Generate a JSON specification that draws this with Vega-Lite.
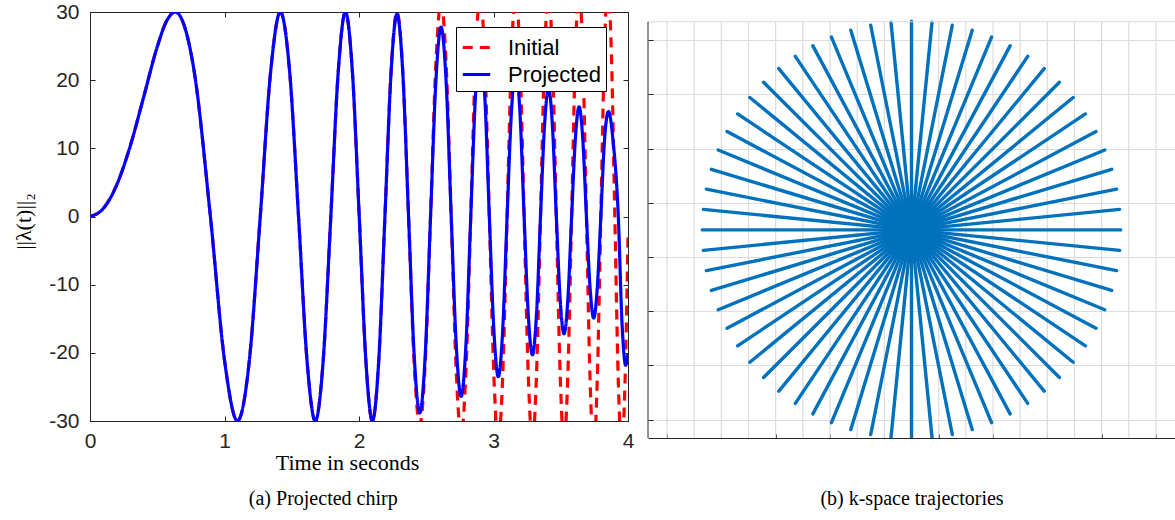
{
  "$schema": "https://vega.github.io/schema/vega-lite/v6.json",
  "background": "white",
  "padding": {"left": 12, "top": -16, "right": 0, "bottom": 0},
  "config": {
    "view": {"stroke": null},
    "font": "Liberation Sans",
    "axis": {"labelFont": "Liberation Sans", "domainColor": "#262626", "tickColor": "#262626", "labelColor": "#262626", "grid": false}
  },
  "spacing": 12,
  "datasets": {
    "chirp": [
      {"series":"Initial","t":0,"y":0},{"series":"Initial","t":0.1,"y":1.2},{"series":"Initial","t":0.2,"y":4.7},{"series":"Initial","t":0.3,"y":10.4},{"series":"Initial","t":0.4,"y":17.6},{"series":"Initial","t":0.5,"y":24.9},{"series":"Initial","t":0.57,"y":28.7},
      {"series":"Initial","t":0.633,"y":30},{"series":"Initial","t":0.7753,"y":21.2},{"series":"Initial","t":0.8952,"y":0},{"series":"Initial","t":1.0009,"y":-21.2},{"series":"Initial","t":1.0964,"y":-30},{"series":"Initial","t":1.1842,"y":-21.2},{"series":"Initial","t":1.266,"y":0},{"series":"Initial","t":1.3428,"y":21.2},{"series":"Initial","t":1.4154,"y":30},{"series":"Initial","t":1.4845,"y":21.2},{"series":"Initial","t":1.5505,"y":0},{"series":"Initial","t":1.6138,"y":-21.2},{"series":"Initial","t":1.6748,"y":-30},{"series":"Initial","t":1.7335,"y":-21.2},{"series":"Initial","t":1.7904,"y":0},{"series":"Initial","t":1.8455,"y":21.2},{"series":"Initial","t":1.899,"y":30},{"series":"Initial","t":1.951,"y":21.2},{"series":"Initial","t":2.0017,"y":0},{"series":"Initial","t":2.0512,"y":-21.2},{"series":"Initial","t":2.0994,"y":-30},{"series":"Initial","t":2.1466,"y":-21.2},{"series":"Initial","t":2.1928,"y":0},
      {"series":"Initial","t":2.238,"y":21.2},{"series":"Initial","t":2.2823,"y":30},{"series":"Initial","t":2.3258,"y":21.2},{"series":"Initial","t":2.3685,"y":0},{"series":"Initial","t":2.4104,"y":-21.6},{"series":"Initial","t":2.4516,"y":-30.5},{"series":"Initial","t":2.4921,"y":-21.6},{"series":"Initial","t":2.532,"y":0},{"series":"Initial","t":2.5713,"y":22.3},{"series":"Initial","t":2.6099,"y":31.5},{"series":"Initial","t":2.648,"y":22.3},{"series":"Initial","t":2.6856,"y":0},{"series":"Initial","t":2.7227,"y":-22.6},{"series":"Initial","t":2.7592,"y":-32},{"series":"Initial","t":2.7953,"y":-22.6},{"series":"Initial","t":2.8308,"y":0},{"series":"Initial","t":2.866,"y":23},{"series":"Initial","t":2.9008,"y":32.5},{"series":"Initial","t":2.9351,"y":23},{"series":"Initial","t":2.969,"y":0},{"series":"Initial","t":3.0026,"y":-23.3},{"series":"Initial","t":3.0357,"y":-33},{"series":"Initial","t":3.0686,"y":-23.3},{"series":"Initial","t":3.1011,"y":0},{"series":"Initial","t":3.1332,"y":23.3},{"series":"Initial","t":3.165,"y":33},{"series":"Initial","t":3.1965,"y":23.3},{"series":"Initial","t":3.2277,"y":0},{"series":"Initial","t":3.2586,"y":-23.3},{"series":"Initial","t":3.2892,"y":-33},{"series":"Initial","t":3.3195,"y":-23.3},{"series":"Initial","t":3.3495,"y":0},{"series":"Initial","t":3.3793,"y":23.3},{"series":"Initial","t":3.4088,"y":33},{"series":"Initial","t":3.4381,"y":23.3},{"series":"Initial","t":3.4671,"y":0},{"series":"Initial","t":3.4959,"y":-23.3},{"series":"Initial","t":3.5244,"y":-33},{"series":"Initial","t":3.5527,"y":-23.3},{"series":"Initial","t":3.5808,"y":0},{"series":"Initial","t":3.6087,"y":23.7},{"series":"Initial","t":3.6363,"y":33.5},{"series":"Initial","t":3.6637,"y":23.7},{"series":"Initial","t":3.691,"y":0},{"series":"Initial","t":3.7181,"y":-24},{"series":"Initial","t":3.7449,"y":-34},{"series":"Initial","t":3.7715,"y":-24},{"series":"Initial","t":3.798,"y":0},{"series":"Initial","t":3.8243,"y":24},{"series":"Initial","t":3.8504,"y":34},{"series":"Initial","t":3.8763,"y":24},{"series":"Initial","t":3.9021,"y":0},{"series":"Initial","t":3.9276,"y":-24},{"series":"Initial","t":3.9531,"y":-34},{"series":"Initial","t":3.9783,"y":-24},{"series":"Initial","t":4.0,"y":-3},
      {"series":"Projected","t":0,"y":0},{"series":"Projected","t":0.1,"y":1.2},{"series":"Projected","t":0.2,"y":4.7},{"series":"Projected","t":0.3,"y":10.4},{"series":"Projected","t":0.4,"y":17.6},{"series":"Projected","t":0.5,"y":24.9},{"series":"Projected","t":0.57,"y":28.7},
      {"series":"Projected","t":0.633,"y":30},{"series":"Projected","t":0.7753,"y":21.2},{"series":"Projected","t":0.8952,"y":0},{"series":"Projected","t":1.0009,"y":-21.2},{"series":"Projected","t":1.0964,"y":-30},{"series":"Projected","t":1.1842,"y":-21.2},{"series":"Projected","t":1.266,"y":0},{"series":"Projected","t":1.3428,"y":21.2},{"series":"Projected","t":1.4154,"y":30},{"series":"Projected","t":1.4845,"y":21.2},{"series":"Projected","t":1.5505,"y":0},{"series":"Projected","t":1.6138,"y":-21.2},{"series":"Projected","t":1.6748,"y":-30},{"series":"Projected","t":1.7335,"y":-21.2},{"series":"Projected","t":1.7904,"y":0},{"series":"Projected","t":1.8455,"y":21.2},{"series":"Projected","t":1.899,"y":30},{"series":"Projected","t":1.951,"y":21.2},{"series":"Projected","t":2.0017,"y":0},{"series":"Projected","t":2.0512,"y":-21.2},{"series":"Projected","t":2.0994,"y":-30},{"series":"Projected","t":2.1466,"y":-21.2},{"series":"Projected","t":2.1928,"y":0},
      {"series":"Projected","t":2.238,"y":21},{"series":"Projected","t":2.2823,"y":29.7},{"series":"Projected","t":2.3258,"y":21},{"series":"Projected","t":2.3685,"y":0},{"series":"Projected","t":2.4104,"y":-20.4},{"series":"Projected","t":2.4516,"y":-28.8},{"series":"Projected","t":2.4921,"y":-20.4},{"series":"Projected","t":2.532,"y":0},{"series":"Projected","t":2.5713,"y":19.7},{"series":"Projected","t":2.6099,"y":27.8},{"series":"Projected","t":2.648,"y":19.7},{"series":"Projected","t":2.6856,"y":0},{"series":"Projected","t":2.7227,"y":-18.7},{"series":"Projected","t":2.7592,"y":-26.4},{"series":"Projected","t":2.7953,"y":-18.7},{"series":"Projected","t":2.8308,"y":0},{"series":"Projected","t":2.866,"y":17.7},{"series":"Projected","t":2.9008,"y":25},{"series":"Projected","t":2.9351,"y":17.7},{"series":"Projected","t":2.969,"y":0},{"series":"Projected","t":3.0026,"y":-16.6},{"series":"Projected","t":3.0357,"y":-23.5},{"series":"Projected","t":3.0686,"y":-16.6},{"series":"Projected","t":3.1011,"y":0},{"series":"Projected","t":3.1332,"y":15.3},{"series":"Projected","t":3.165,"y":21.7},{"series":"Projected","t":3.1965,"y":15.3},{"series":"Projected","t":3.2277,"y":0},{"series":"Projected","t":3.2586,"y":-14.4},{"series":"Projected","t":3.2892,"y":-20.3},{"series":"Projected","t":3.3195,"y":-14.4},{"series":"Projected","t":3.3495,"y":0},{"series":"Projected","t":3.3793,"y":13.3},{"series":"Projected","t":3.4088,"y":18.8},{"series":"Projected","t":3.4381,"y":13.3},{"series":"Projected","t":3.4671,"y":0},{"series":"Projected","t":3.4959,"y":-12.2},{"series":"Projected","t":3.5244,"y":-17.2},{"series":"Projected","t":3.5527,"y":-12.2},{"series":"Projected","t":3.5808,"y":0},{"series":"Projected","t":3.6087,"y":11.4},{"series":"Projected","t":3.6363,"y":16.1},{"series":"Projected","t":3.6637,"y":11.4},{"series":"Projected","t":3.691,"y":0},{"series":"Projected","t":3.7181,"y":-10.5},{"series":"Projected","t":3.7449,"y":-14.9},{"series":"Projected","t":3.7715,"y":-10.5},{"series":"Projected","t":3.798,"y":0},{"series":"Projected","t":3.8243,"y":10.9},{"series":"Projected","t":3.855,"y":15.4},{"series":"Projected","t":3.89,"y":10.9},{"series":"Projected","t":3.928,"y":0},{"series":"Projected","t":3.955,"y":-15.4},{"series":"Projected","t":3.983,"y":-21.8},{"series":"Projected","t":4.0,"y":-20.1}
    ],
    "spokes": [
      {"x":7.7,"y":0,"x2":-7.7,"y2":0},
      {"x":7.663,"y":0.755,"x2":-7.663,"y2":-0.755},
      {"x":7.552,"y":1.502,"x2":-7.552,"y2":-1.502},
      {"x":7.368,"y":2.235,"x2":-7.368,"y2":-2.235},
      {"x":7.114,"y":2.947,"x2":-7.114,"y2":-2.947},
      {"x":6.791,"y":3.63,"x2":-6.791,"y2":-3.63},
      {"x":6.402,"y":4.278,"x2":-6.402,"y2":-4.278},
      {"x":5.952,"y":4.885,"x2":-5.952,"y2":-4.885},
      {"x":5.445,"y":5.445,"x2":-5.445,"y2":-5.445},
      {"x":4.885,"y":5.952,"x2":-4.885,"y2":-5.952},
      {"x":4.278,"y":6.402,"x2":-4.278,"y2":-6.402},
      {"x":3.63,"y":6.791,"x2":-3.63,"y2":-6.791},
      {"x":2.947,"y":7.114,"x2":-2.947,"y2":-7.114},
      {"x":2.235,"y":7.368,"x2":-2.235,"y2":-7.368},
      {"x":1.502,"y":7.552,"x2":-1.502,"y2":-7.552},
      {"x":0.755,"y":7.663,"x2":-0.755,"y2":-7.663},
      {"x":0,"y":7.7,"x2":0,"y2":-7.7},
      {"x":-0.755,"y":7.663,"x2":0.755,"y2":-7.663},
      {"x":-1.502,"y":7.552,"x2":1.502,"y2":-7.552},
      {"x":-2.235,"y":7.368,"x2":2.235,"y2":-7.368},
      {"x":-2.947,"y":7.114,"x2":2.947,"y2":-7.114},
      {"x":-3.63,"y":6.791,"x2":3.63,"y2":-6.791},
      {"x":-4.278,"y":6.402,"x2":4.278,"y2":-6.402},
      {"x":-4.885,"y":5.952,"x2":4.885,"y2":-5.952},
      {"x":-5.445,"y":5.445,"x2":5.445,"y2":-5.445},
      {"x":-5.952,"y":4.885,"x2":5.952,"y2":-4.885},
      {"x":-6.402,"y":4.278,"x2":6.402,"y2":-4.278},
      {"x":-6.791,"y":3.63,"x2":6.791,"y2":-3.63},
      {"x":-7.114,"y":2.947,"x2":7.114,"y2":-2.947},
      {"x":-7.368,"y":2.235,"x2":7.368,"y2":-2.235},
      {"x":-7.552,"y":1.502,"x2":7.552,"y2":-1.502},
      {"x":-7.663,"y":0.755,"x2":7.663,"y2":-0.755}
    ],
    "gridx": [
      {"x":-9},{"x":-8},{"x":-7},{"x":-6},{"x":-5},{"x":-4},{"x":-3},{"x":-2},{"x":-1},{"x":0},{"x":1},{"x":2},{"x":3},{"x":4},{"x":5},{"x":6},{"x":7},{"x":8},{"x":9}
    ]
  },
  "hconcat": [
    {
      "width": 538,
      "height": 409,
      "view": {"stroke": "#262626", "strokeWidth": 1},
      "title": {"text": "(a) Projected chirp", "orient": "bottom", "anchor": "middle", "frame": "bounds", "font": "Liberation Serif", "fontSize": 20, "fontWeight": "normal", "color": "black", "offset": 16},
      "data": {"name": "chirp"},
      "layer": [
        {
          "mark": {"type": "line", "clip": true, "strokeWidth": 3.2, "interpolate": "monotone"},
          "encoding": {
            "x": {"field": "t", "type": "quantitative", "scale": {"domain": [0, 4], "nice": false, "zero": false},
                  "axis": {"orient": "bottom", "values": [0, 1, 2, 3, 4], "tickSize": -5, "labelFontSize": 21, "labelPadding": 14, "labelFlush": false,
                           "title": "Time in seconds", "titleFont": "Liberation Serif", "titleFontSize": 22, "titleFontWeight": "normal", "titleColor": "black", "titlePadding": 1, "titleX": 257}},
            "y": {"field": "y", "type": "quantitative", "scale": {"domain": [-30, 30], "nice": false, "zero": false},
                  "axis": {"orient": "left", "values": [-30, -20, -10, 0, 10, 20, 30], "tickSize": -5, "labelFontSize": 21, "labelPadding": 16, "labelFlush": false,
                           "labelExpr": "replace(datum.label, '−', '-')",
                           "title": "||λ(t)||₂", "titleFont": "Liberation Serif", "titleFontSize": 22, "titleFontWeight": "normal", "titleColor": "black", "titlePadding": 13, "titleY": 209}},
            "color": {"field": "series", "type": "nominal", "scale": {"domain": ["Initial", "Projected"], "range": ["#ff0000", "#0000ff"]},
                      "legend": {"title": null, "orient": "none", "legendX": 366, "legendY": 15, "symbolType": "stroke", "symbolSize": 750, "symbolStrokeWidth": 3.2, "labelFontSize": 22, "labelFont": "Liberation Sans", "labelColor": "black", "strokeColor": "black", "fillColor": "white", "padding": 5, "rowPadding": 0, "labelOffset": 16}},
            "strokeDash": {"field": "series", "type": "nominal", "scale": {"domain": ["Initial", "Projected"], "range": [[10, 7], [1, 0]]},
                      "legend": {"title": null, "orient": "none", "legendX": 366, "legendY": 15, "symbolType": "stroke", "symbolSize": 750, "symbolStrokeWidth": 3.2, "labelFontSize": 22, "labelFont": "Liberation Sans", "labelColor": "black", "strokeColor": "black", "fillColor": "white", "padding": 5, "rowPadding": 0, "labelOffset": 16}}
          }
        },
        {
          "mark": {"type": "line", "opacity": 0},
          "encoding": {
            "x": {"field": "t", "type": "quantitative", "axis": {"orient": "top", "values": [0, 1, 2, 3, 4], "labels": false, "domain": false, "tickSize": -5, "title": null, "minExtent": 0, "maxExtent": 0}},
            "y": {"field": "y", "type": "quantitative", "axis": {"orient": "right", "values": [-30, -20, -10, 0, 10, 20, 30], "labels": false, "domain": false, "tickSize": -5, "title": null, "minExtent": 0, "maxExtent": 0}},
            "detail": {"field": "series"}
          }
        }
      ],
      "resolve": {"axis": {"x": "independent", "y": "independent"}}
    },
    {
      "width": 527,
      "height": 426,
      "layer": [
        {
          "data": {"name": "gridx"},
          "mark": {"type": "rule", "color": "#dcdcdc", "strokeWidth": 1.2},
          "encoding": {
            "x": {"field": "x", "type": "quantitative", "scale": {"domain": [-9.7, 9.7], "nice": false, "zero": false},
                  "axis": {"orient": "bottom", "values": [-9, -8, -7, -6, -5, -4, -3, -2, -1, 0, 1, 2, 3, 4, 5, 6, 7, 8, 9], "labels": false, "tickSize": -4, "grid": false, "minExtent": 0,
                           "title": "(b) k-space trajectories", "titleFont": "Liberation Serif", "titleFontSize": 20, "titleFontWeight": "normal", "titleColor": "black", "titlePadding": 50}},
            "y": {"datum": -7.68, "type": "quantitative", "scale": {"domain": [-7.68, 8.04], "nice": false, "zero": false},
                  "axis": {"orient": "left", "values": [-7, -6, -5, -4, -3, -2, -1, 0, 1, 2, 3, 4, 5, 6, 7], "labels": false, "domain": false, "tickSize": -5, "grid": true, "gridColor": "#dcdcdc", "gridWidth": 1.2, "title": null, "minExtent": 0}},
            "y2": {"datum": 7.68}
          }
        },
        {
          "data": {"name": "spokes"},
          "mark": {"type": "rule", "strokeWidth": 3.4, "strokeCap": "round", "color": "#0072BD", "clip": true},
          "encoding": {
            "x": {"field": "x", "type": "quantitative",
                  "axis": {"orient": "bottom", "values": [-9, -8, -7, -6, -5, -4, -3, -2, -1, 0, 1, 2, 3, 4, 5, 6, 7, 8, 9], "labels": false, "tickSize": -4, "grid": false, "minExtent": 0,
                           "title": "(b) k-space trajectories", "titleFont": "Liberation Serif", "titleFontSize": 20, "titleFontWeight": "normal", "titleColor": "black", "titlePadding": 50}},
            "y": {"field": "y", "type": "quantitative",
                  "axis": {"orient": "left", "values": [-7, -6, -5, -4, -3, -2, -1, 0, 1, 2, 3, 4, 5, 6, 7], "labels": false, "domain": false, "tickSize": -5, "grid": true, "gridColor": "#dcdcdc", "gridWidth": 1.2, "title": null, "minExtent": 0}},
            "x2": {"field": "x2"},
            "y2": {"field": "y2"}
          }
        },
        {
          "data": {"values": [{}]},
          "mark": {"type": "rule", "color": "#d9d9d9", "strokeWidth": 1},
          "encoding": {"y": {"datum": 7.68, "type": "quantitative"}}
        },
        {
          "data": {"values": [{}]},
          "mark": {"type": "rule", "color": "#262626", "strokeWidth": 1},
          "encoding": {"x": {"datum": -9.7, "type": "quantitative"}, "y": {"datum": -7.68, "type": "quantitative"}, "y2": {"datum": 7.68}}
        }
      ]
    }
  ]
}
